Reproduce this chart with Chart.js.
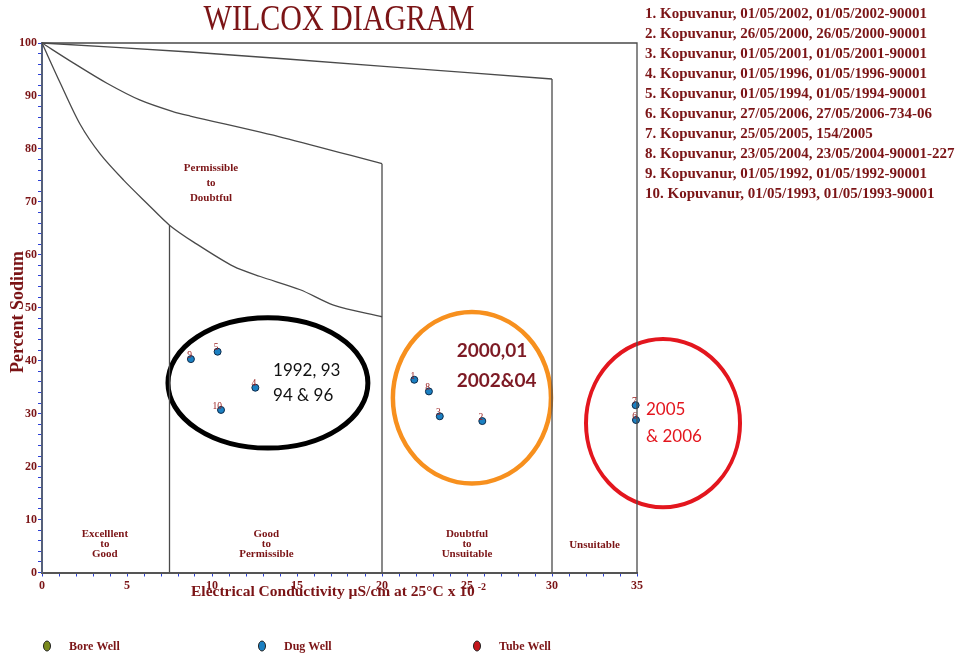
<!DOCTYPE html>
<html>
<head>
<meta charset="utf-8">
<script src="https://cdn.jsdelivr.net/npm/chart.js@4.4.1/dist/chart.umd.min.js"></script>
<style>
  html, body { margin: 0; padding: 0; background: #ffffff; }
  #wrap { width: 956px; height: 654px; }
</style>
</head>
<body>
<div id="wrap"><canvas id="wilcox" width="956" height="654"></canvas></div>
<script>
// Samples: electrical conductivity (x 10^-2 µS/cm at 25°C) and percent sodium
const sampleIds = ['1', '2', '3', '4', '5', '6', '7', '8', '9', '10'];
const conductivity = [21.9, 25.9, 23.4, 12.55, 10.33, 34.94, 34.92, 22.76, 8.76, 10.53];
const percentSodium = [36.4, 28.6, 29.5, 34.9, 41.7, 28.8, 31.6, 34.2, 40.3, 30.7];
const sampleNames = [
  '1. Kopuvanur, 01/05/2002, 01/05/2002-90001',
  '2. Kopuvanur, 26/05/2000, 26/05/2000-90001',
  '3. Kopuvanur, 01/05/2001, 01/05/2001-90001',
  '4. Kopuvanur, 01/05/1996, 01/05/1996-90001',
  '5. Kopuvanur, 01/05/1994, 01/05/1994-90001',
  '6. Kopuvanur, 27/05/2006, 27/05/2006-734-06',
  '7. Kopuvanur, 25/05/2005, 154/2005',
  '8. Kopuvanur, 23/05/2004, 23/05/2004-90001-227',
  '9. Kopuvanur, 01/05/1992, 01/05/1992-90001',
  '10. Kopuvanur, 01/05/1993, 01/05/1993-90001'
];

// Wilcox class boundary curves (EC, %Na)
const upperBoundEC = [0, 8.7, 20.1, 30];
const upperBoundNa = [100, 98.3, 95.6, 93.2];
const middleBoundEC = [0, 1.86, 3.82, 5.78, 7.74, 8.72, 14.2, 20];
const middleBoundNa = [100, 96.2, 92.4, 89.2, 87.0, 86.2, 82.1, 77.2];
const lowerBoundEC = [0, 1.08, 2.25, 3.43, 4.8, 6.18, 7.5, 8.92, 11.27, 12.84, 15.19, 17.15, 20];
const lowerBoundNa = [100, 92.4, 84.6, 79.0, 74.1, 69.7, 65.6, 62.4, 57.8, 55.9, 53.4, 50.5, 48.3];
// Vertical class limits
const limitEC = [7.5, 20, 30];
const limitTopNa = [65.6, 77.2, 93.2];
// Outer frame
const frameEC = [0, 35, 35];
const frameNa = [100, 100, 0];

// Class names and where they sit (EC of the label centre)
const classNames = [['Excelllent', 'to', 'Good'], ['Good', 'to', 'Permissible'], ['Doubtful', 'to', 'Unsuitable'], ['Unsuitable']];
const classCentreEC = [3.7, 13.2, 25.0, 32.5];
const upperClassName = ['Permissible', 'to', 'Doubtful'];

// Well types
const wellTypes = ['Bore Well', 'Dug Well', 'Tube Well'];
const wellColours = ['#7a8a1e', '#1b80c2', '#c4161c'];

// Year groups circled on the plot
const groupLabels = [['1992, 93', '94 & 96'], ['2000,01', '2002&04'], ['2005', '& 2006']];

const toPoints = (xs, ys) => xs.map((x, i) => ({ x: x, y: ys[i] }));

const RED = '#7b1416';
const SERIF = '"Liberation Serif", "Times New Roman", serif';

const lineStyle = (tension) => ({
  type: 'line', showLine: true, pointRadius: 0, borderColor: '#4a4a4a',
  borderWidth: 1.3, tension: tension, fill: false, clip: 6
});

const limitDatasets = limitEC.map((ec, i) => Object.assign(
  { label: 'limit ' + ec, data: toPoints([ec, ec], [limitTopNa[i], 0]) }, lineStyle(0)));

const decor = {
  id: 'wilcoxDecor',
  beforeDatasetsDraw(chart) {
    const { ctx, scales: { x, y } } = chart;
    // circled groups: [centre EC, centre Na, half width EC, half height Na, colour, line width]
    const rings = [
      [13.29, 35.8, 5.88, 12.3, '#000000', 5],
      [25.29, 33.0, 4.65, 16.2, '#f7901e', 4.5],
      [36.53, 28.2, 4.53, 15.9, '#e3161e', 4]
    ];
    ctx.save();
    rings.forEach(r => {
      const cx = x.getPixelForValue(r[0]);
      const cy = y.getPixelForValue(r[1]);
      const rx = x.getPixelForValue(r[0] + r[2]) - cx;
      const ry = cy - y.getPixelForValue(r[1] + r[3]);
      ctx.beginPath();
      ctx.ellipse(cx, cy, rx, ry, 0, 0, Math.PI * 2);
      ctx.strokeStyle = r[4];
      ctx.lineWidth = r[5];
      ctx.stroke();
    });
    ctx.restore();
  },
  afterDatasetsDraw(chart) {
    const { ctx, scales: { x, y } } = chart;
    ctx.save();
    // sample numbers next to the points
    const idx = chart.data.datasets.findIndex(d => d.label === wellTypes[1]);
    const meta = chart.getDatasetMeta(idx);
    ctx.font = '9.5px ' + SERIF;
    ctx.fillStyle = '#9a2020';
    ctx.textAlign = 'right';
    ctx.textBaseline = 'bottom';
    meta.data.forEach((pt, i) => {
      ctx.fillText(sampleIds[i], pt.x + 1, pt.y + 1);
    });

    // class names
    ctx.fillStyle = RED;
    ctx.textAlign = 'center';
    ctx.textBaseline = 'middle';
    ctx.font = 'bold 11px ' + SERIF;
    classNames.forEach((lines, k) => {
      const cx = x.getPixelForValue(classCentreEC[k]);
      if (lines.length === 1) {
        ctx.fillText(lines[0], cx, 545);
      } else {
        lines.forEach((t, j) => ctx.fillText(t, cx, 534 + j * 10));
      }
    });
    upperClassName.forEach((t, j) => ctx.fillText(t, x.getPixelForValue(9.94), 168 + j * 15));

    // group captions
    ctx.textAlign = 'left';
    ctx.font = '17px Lato, "Open Sans", sans-serif';
    ctx.fillStyle = '#111111';
    ctx.fillText(groupLabels[0][0], x.getPixelForValue(13.59), y.getPixelForValue(38.2));
    ctx.fillText(groupLabels[0][1], x.getPixelForValue(13.59), y.getPixelForValue(33.5));
    ctx.font = 'bold 19px Lato, "Open Sans", sans-serif';
    ctx.fillStyle = '#7d1a24';
    ctx.fillText(groupLabels[1][0], x.getPixelForValue(24.39), y.getPixelForValue(41.8));
    ctx.fillText(groupLabels[1][1], x.getPixelForValue(24.39), y.getPixelForValue(36.2));
    ctx.font = '17px Lato, "Open Sans", sans-serif';
    ctx.fillStyle = '#e3161e';
    ctx.fillText(groupLabels[2][0], x.getPixelForValue(35.53), y.getPixelForValue(30.7));
    ctx.fillText(groupLabels[2][1], x.getPixelForValue(35.53), y.getPixelForValue(25.6));
    ctx.restore();
  },
  afterDraw(chart) {
    const { ctx } = chart;
    ctx.save();
    // title
    ctx.fillStyle = RED;
    ctx.textAlign = 'center';
    ctx.textBaseline = 'middle';
    ctx.save();
    ctx.translate(339, 21);
    ctx.scale(1, 1.2);
    ctx.font = '30px ' + SERIF;
    ctx.fillText('WILCOX DIAGRAM', 0, 0);
    ctx.restore();

    // sample list
    ctx.textAlign = 'left';
    ctx.font = 'bold 15px ' + SERIF;
    sampleNames.forEach((t, i) => ctx.fillText(t, 645, 14 + i * 20));

    // axis titles
    ctx.font = 'bold 18px ' + SERIF;
    ctx.save();
    ctx.translate(18, 312);
    ctx.rotate(-Math.PI / 2);
    ctx.textAlign = 'center';
    ctx.fillText('Percent Sodium', 0, 0);
    ctx.restore();

    ctx.font = 'bold 15.5px ' + SERIF;
    const xTitle = 'Electrical Conductivity µS/cm at 25°C x 10';
    ctx.fillText(xTitle, 191, 592);
    const w = ctx.measureText(xTitle).width;
    ctx.font = 'bold 10px ' + SERIF;
    ctx.fillText('-2', 191 + w + 3, 587);

    // legend
    const legendX = [47, 262, 477];
    wellTypes.forEach((name, i) => {
      ctx.beginPath();
      ctx.ellipse(legendX[i], 646, 3.5, 5, 0, 0, Math.PI * 2);
      ctx.fillStyle = wellColours[i];
      ctx.fill();
      ctx.lineWidth = 1;
      ctx.strokeStyle = '#222222';
      ctx.stroke();
      ctx.fillStyle = RED;
      ctx.font = 'bold 12px ' + SERIF;
      ctx.fillText(name, legendX[i] + 22, 647);
    });
    ctx.restore();
  }
};

new Chart(document.getElementById('wilcox'), {
  type: 'scatter',
  data: {
    datasets: [
      Object.assign({ label: 'frame', data: toPoints(frameEC, frameNa) }, lineStyle(0)),
      Object.assign({ label: 'upper', data: toPoints(upperBoundEC, upperBoundNa) }, lineStyle(0.3)),
      Object.assign({ label: 'middle', data: toPoints(middleBoundEC, middleBoundNa) }, lineStyle(0.3)),
      Object.assign({ label: 'lower', data: toPoints(lowerBoundEC, lowerBoundNa) }, lineStyle(0.3)),
      ...limitDatasets,
      { label: wellTypes[0], data: [], backgroundColor: wellColours[0] },
      {
        label: wellTypes[1],
        data: toPoints(conductivity, percentSodium),
        pointRadius: 3.5,
        pointBackgroundColor: wellColours[1],
        pointBorderColor: '#0d2a4a',
        pointBorderWidth: 1,
        clip: 6
      },
      { label: wellTypes[2], data: [], backgroundColor: wellColours[2] }
    ]
  },
  options: {
    responsive: false,
    animation: false,
    devicePixelRatio: 1,
    layout: { padding: { top: 43, right: 319, left: 0, bottom: 0 } },
    plugins: { legend: { display: false }, tooltip: { enabled: false } },
    scales: {
      x: {
        type: 'linear', min: 0, max: 35,
        ticks: {
          stepSize: 1, autoSkip: false, maxRotation: 0, padding: 2,
          callback: v => (v % 5 === 0 ? v : ''),
          font: { family: SERIF, weight: 'bold', size: 12 }, color: RED
        },
        grid: { drawOnChartArea: false, drawTicks: true, tickLength: 4, color: '#2b3fd6' },
        border: { display: true, color: '#555555', width: 2 },
        afterFit(s) { s.height = 81.5; }
      },
      y: {
        type: 'linear', min: 0, max: 100,
        ticks: {
          stepSize: 2, autoSkip: false, padding: 1,
          callback: v => (v % 10 === 0 ? v : ''),
          font: { family: SERIF, weight: 'bold', size: 12 }, color: RED
        },
        grid: { drawOnChartArea: false, drawTicks: true, tickLength: 4, color: '#2b3fd6' },
        border: { display: true, color: '#55607a', width: 2 },
        afterFit(s) { s.width = 42; }
      }
    }
  },
  plugins: [decor]
});
</script>
</body>
</html>
